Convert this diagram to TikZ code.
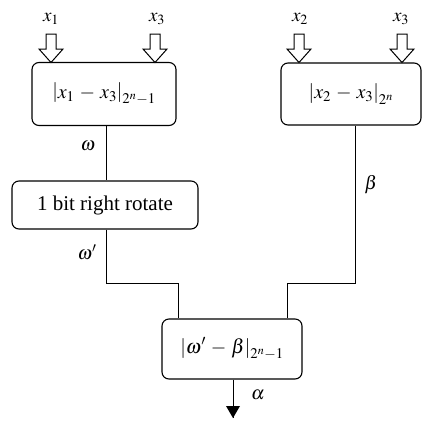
\documentclass[tikz,border=0pt]{standalone}
\usepackage{mathptmx}
\usepackage[no-math]{fontspec}
\setmainfont{Liberation Serif}
\begin{document}
\begin{tikzpicture}[x=1pt,y=-1pt,
  box/.style={draw,line width=1.1pt,rounded corners=7pt},
  wire/.style={line width=1pt},
  big/.style={font=\fontsize{20}{24}\selectfont},
  lbl/.style={font=\fontsize{19}{22}\selectfont},
  hollow/.style={draw,line width=1pt,fill=white}]
\useasboundingbox (0,0) rectangle (423,421);
% boxes
\node[box,big,minimum width=144pt,minimum height=63pt] (b1) at (104,94) {$\left|x_1\mathbin{\,-\,}x_3\right|_{2^n-1}$};
\node[box,big,minimum width=140pt,minimum height=62pt] (b2) at (351,94) {$\left|x_2\mathbin{\,-\,}x_3\right|_{2^n}$};
\node[box,font=\fontsize{21}{24}\selectfont,minimum width=186pt,minimum height=48pt] (rot) at (105,205) {1 bit right rotate};
\node[box,big,minimum width=140pt,minimum height=60pt] (b3) at (232,349) {$\left|\omega'\mathbin{\,-\,}\beta\right|_{2^n-1}$};
% input labels
\node[lbl] (x1) at (51,19) {$x_1$};
\node[lbl] (x3a) at (157,19) {$x_3$};
\node[lbl] (x2) at (300,19) {$x_2$};
\node[lbl] (x3b) at (401,19) {$x_3$};
% hollow arrows
\foreach \c in {51,155,299,402}{
  \draw[hollow] (\c-5,34) -- (\c+5,34) -- (\c+5,49) -- (\c+12,49) -- (\c,62.5) -- (\c-12,49) -- (\c-5,49) -- cycle;
}
% wires
\coordinate (j1) at (106,283);
\coordinate (j2) at (178,283);
\coordinate (j3) at (355,283);
\coordinate (j4) at (287,283);
\draw[wire] (b1.south -| j1) -- (rot.north -| j1);
\draw[wire] (rot.south -| j1) -- (j1) -- (j2) -- (b3.north -| j2);
\draw[wire] (b2.south -| j3) -- (j3) -- (j4) -- (b3.north -| j4);
\coordinate (out) at (233,418);
\draw[wire] (b3.south -| out) -- (out);
\fill (out) -- ++(-7,-12) -- ++(14,0) -- cycle;
% wire labels
\node[lbl] (w) at (88,146) {$\omega$};
\node[lbl] (wp) at (87,252) {$\omega'$};
\node[lbl] (be) at (371,185) {$\beta$};
\node[lbl] (al) at (258,395) {$\alpha$};
\end{tikzpicture}
\end{document}
